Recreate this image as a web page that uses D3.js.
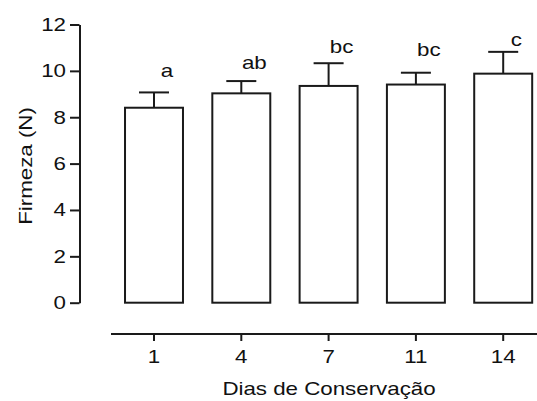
<!DOCTYPE html>
<html>
<head>
<meta charset="utf-8">
<script src="https://cdn.jsdelivr.net/npm/d3@7"></script>
<style>
  body { margin: 0; background: #fff; }
  text { font-family: "Liberation Sans", Arial, sans-serif; fill: #111; }
</style>
</head>
<body>
<div id="chart"></div>
<script>
// firmness per storage day
var days = ["1", "4", "7", "11", "14"];
var means = [8.41, 9.03, 9.35, 9.41, 9.88];
var errs = [0.66, 0.53, 0.98, 0.51, 0.94];
var letters = ["a", "ab", "bc", "bc", "c"];
var letterY = [9.74, 10.08, 10.77, 10.64, 11.09];
var yTicks = [0, 2, 4, 6, 8, 10, 12];

var W = 537, H = 401;
var fs = 18.6, sx = 1.2;
var ink = "#1a1a1a";

var svg = d3.select("#chart").append("svg")
    .attr("width", W).attr("height", H);

var x = d3.scaleBand().domain(days).range([110.35, 546.85])
    .paddingInner(0.336).paddingOuter(0.168);
var y = d3.scaleLinear().domain([0, 12]).range([302.7, 24.5]);

// bars
svg.selectAll("rect.bar").data(days).enter().append("rect")
    .attr("class", "bar")
    .attr("x", function(d) { return x(d); })
    .attr("y", function(d, i) { return y(means[i]); })
    .attr("width", x.bandwidth())
    .attr("height", function(d, i) { return y(0) - y(means[i]); })
    .attr("fill", "#fff").attr("stroke", ink).attr("stroke-width", 2);

// error bars (upper only)
var eb = svg.selectAll("g.err").data(days).enter().append("g")
    .attr("class", "err")
    .attr("transform", function(d) { return "translate(" + (x(d) + x.bandwidth() / 2) + ",0)"; });
eb.append("line")
    .attr("y1", function(d, i) { return y(means[i]); })
    .attr("y2", function(d, i) { return y(means[i] + errs[i]); })
    .attr("stroke", ink).attr("stroke-width", 2);
eb.append("line")
    .attr("x1", -15).attr("x2", 15)
    .attr("y1", function(d, i) { return y(means[i] + errs[i]); })
    .attr("y2", function(d, i) { return y(means[i] + errs[i]); })
    .attr("stroke", ink).attr("stroke-width", 2);

// significance letters
svg.selectAll("text.sig").data(days).enter().append("text")
    .attr("class", "sig")
    .attr("text-anchor", "middle")
    .attr("font-size", fs + "px")
    .attr("transform", function(d, i) {
        return "translate(" + (x(d) + x.bandwidth() / 2 + 13) + "," + y(letterY[i]) + ") scale(" + sx + ",1)";
    })
    .text(function(d, i) { return letters[i]; });

// y axis
var gy = svg.append("g").attr("transform", "translate(79.5,0)")
    .call(d3.axisLeft(y).tickValues(yTicks).tickSize(9.5).tickSizeOuter(0).tickPadding(4));
gy.select(".domain").attr("stroke", ink).attr("stroke-width", 2);
gy.selectAll(".tick line").attr("stroke", ink).attr("stroke-width", 2);
gy.selectAll(".tick text")
    .attr("font-size", fs + "px").attr("font-family", null)
    .attr("x", -13.5 / sx)
    .attr("transform", "scale(" + sx + ",1)");

// x axis
var gx = svg.append("g").attr("transform", "translate(0,334)")
    .call(d3.axisBottom(x).tickSize(7).tickSizeOuter(0).tickPadding(9));
gx.select(".domain").attr("d", "M111,0H537").attr("stroke", ink).attr("stroke-width", 2);
gx.selectAll(".tick line").attr("stroke", ink).attr("stroke-width", 2);
gx.selectAll(".tick text")
    .attr("font-size", fs + "px").attr("font-family", null)
    .attr("transform", "scale(" + sx + ",1)");

// axis titles
svg.append("text")
    .attr("text-anchor", "middle")
    .attr("font-size", fs + "px")
    .attr("transform", "translate(329,395) scale(" + sx + ",1)")
    .text("Dias de Conservação");

svg.append("text")
    .attr("text-anchor", "middle")
    .attr("font-size", fs + "px")
    .attr("transform", "translate(32,166) rotate(-90) scale(" + sx + ",1)")
    .text("Firmeza (N)");
</script>
</body>
</html>
